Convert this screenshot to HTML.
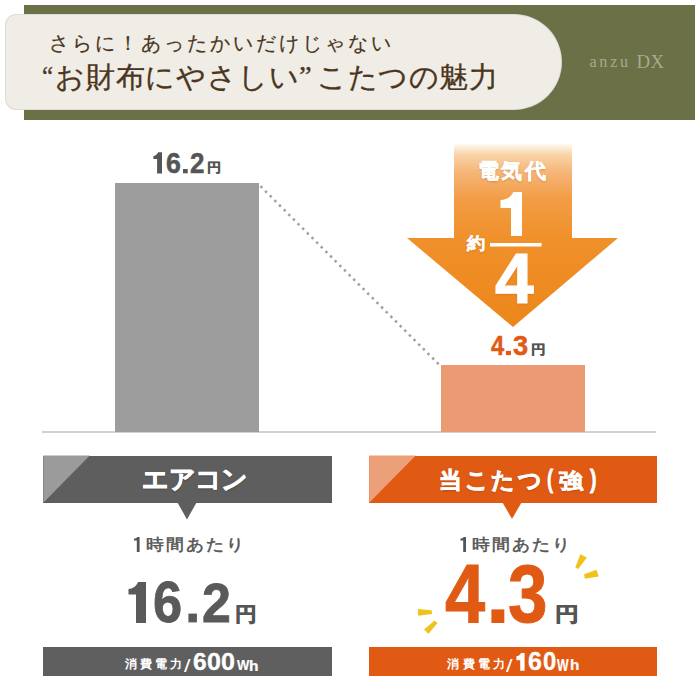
<!DOCTYPE html>
<html lang="ja">
<head>
<meta charset="utf-8">
<style>
html,body{margin:0;padding:0;background:#fff;}
body{width:700px;height:700px;position:relative;overflow:hidden;font-family:"Liberation Sans",sans-serif;}
.abs{position:absolute;white-space:nowrap;}
</style>
</head>
<body>
<!-- header -->
<div class="abs" style="left:24px;top:5px;width:671px;height:115px;background:#6b7047;"></div>
<div class="abs" style="left:6px;top:15px;width:555px;height:93.5px;background:#efede6;border-radius:10px 47px 47px 10px;box-shadow:0 0 0 1px #dedcd5;"></div>

<!-- chart -->
<div class="abs" style="left:42px;top:431px;width:614px;height:1.6px;background:#d2d2d0;"></div>
<div class="abs" style="left:115px;top:183px;width:144px;height:249px;background:#9d9d9d;"></div>
<div class="abs" style="left:441px;top:365px;width:144px;height:67px;background:#eb9a73;"></div>
<svg class="abs" style="left:0;top:0" width="700" height="700">
  <line x1="260.5" y1="186.2" x2="440" y2="365.5" stroke="#a0a0a0" stroke-width="2.5" stroke-dasharray="2.5 4.06"/>
  <defs>
    <linearGradient id="ag" gradientUnits="userSpaceOnUse" x1="0" y1="144" x2="0" y2="327">
      <stop offset="0" stop-color="#fffaf4"/>
      <stop offset="0.06" stop-color="#f9d3a6"/>
      <stop offset="0.16" stop-color="#f5b475"/>
      <stop offset="0.3" stop-color="#f29d45"/>
      <stop offset="0.5" stop-color="#f0912c"/>
      <stop offset="1" stop-color="#ec8619"/>
    </linearGradient>
  </defs>
  <path d="M454 144 L572 144 L572 238 L618 238 L513 327 L407 238 L454 238 Z" fill="url(#ag)"/>
  <rect x="490" y="243" width="51.5" height="3.5" fill="#fff"/>
</svg>

<!-- labels -->
<div class="abs" style="left:43.3px;top:455.6px;width:288.5px;height:47.2px;background:#5e5e5e;"></div>
<div class="abs" style="left:369.2px;top:455.6px;width:287.6px;height:47.2px;background:#e05a14;"></div>
<svg class="abs" style="left:0;top:0" width="700" height="700">
  <path d="M43.3 455.6 L89.8 455.6 L43.3 502.8 Z" fill="#9b9b9b"/>
  <path d="M177.5 502.5 L196.5 502.5 L187 519.5 Z" fill="#5e5e5e"/>
  <path d="M369.2 455.6 L415.7 455.6 L369.2 502.8 Z" fill="#eca07a"/>
  <path d="M502.5 502.5 L521.5 502.5 L512 519 Z" fill="#e05a14"/>
  <g fill="#efc31b">
    <path d="M580.4 554.3 L586.9 557.5 L578.2 569.1 L575.3 567.5 Z"/>
    <path d="M584 574.2 L596.5 569.7 L598.7 576.5 L584.9 578.7 Z"/>
    <path d="M417.9 609 L431.7 610.3 L432 614.1 L418.2 615.7 Z"/>
    <path d="M434.6 620.6 L437.5 623.1 L428.5 633.7 L424 629.6 Z"/>
  </g>
</svg>

<!-- bottom bars -->
<div class="abs" style="left:43px;top:647px;width:289px;height:29px;background:#5f5f5f;"></div>
<div class="abs" style="left:369px;top:647px;width:288px;height:29px;background:#e05a14;"></div>

<!-- texts -->
<div id="h1" style="position:absolute;white-space:nowrap;left:48.80px;top:33.80px;font-family:'Liberation Serif',serif;font-size:19.61px;line-height:1;font-weight:normal;letter-spacing:3.04px;color:#4b3520;-webkit-text-stroke:0.2px #4b3520;">さらに！あったかいだけじゃない</div>
<div id="air" style="position:absolute;white-space:nowrap;left:142.35px;top:466.50px;font-family:'Liberation Sans',sans-serif;font-size:25.62px;line-height:1;font-weight:bold;letter-spacing:-0.72px;color:#fff;-webkit-text-stroke:0.8px #fff;text-shadow:0 1px 2px rgba(0,0,0,0.35);">エアコン</div>
<div id="jkL" style="position:absolute;white-space:nowrap;left:146.15px;top:535.55px;font-family:'Liberation Sans',sans-serif;font-size:16.13px;line-height:1;font-weight:normal;letter-spacing:1.82px;color:#555;-webkit-text-stroke:0.5px #555;transform:scaleX(1.1200);transform-origin:0 0;">時間あたり</div>
<div id="jkR" style="position:absolute;white-space:nowrap;left:471.75px;top:535.55px;font-family:'Liberation Sans',sans-serif;font-size:16.13px;line-height:1;font-weight:normal;letter-spacing:1.83px;color:#555;-webkit-text-stroke:0.5px #555;transform:scaleX(1.1200);transform-origin:0 0;">時間あたり</div>
<div id="denki" style="position:absolute;white-space:nowrap;left:478.10px;top:160.80px;font-family:'Liberation Sans',sans-serif;font-size:20.62px;line-height:1;font-weight:bold;letter-spacing:2.32px;color:#fff;-webkit-text-stroke:0.4px #fff;text-shadow:0 1px 2px rgba(140,60,0,0.35);">電気代</div>
<div id="yaku" style="position:absolute;white-space:nowrap;left:467.00px;top:236.25px;font-family:'Liberation Sans',sans-serif;font-size:16.91px;line-height:1;font-weight:bold;color:#fff;-webkit-text-stroke:0.3px #fff;transform:scaleX(1.0742);transform-origin:0 0;text-shadow:0 1px 2px rgba(140,60,0,0.3);">約</div>
<div id="smL" style="position:absolute;white-space:nowrap;left:125.40px;top:658.25px;font-family:'Liberation Sans',sans-serif;font-size:12.35px;line-height:1;font-weight:bold;letter-spacing:2.98px;color:#fff;">消費電力</div>
<div id="smR" style="position:absolute;white-space:nowrap;left:447.40px;top:658.25px;font-family:'Liberation Sans',sans-serif;font-size:12.35px;line-height:1;font-weight:bold;letter-spacing:3.15px;color:#fff;">消費電力</div>
<div id="kot" style="position:absolute;white-space:nowrap;left:438.85px;top:469.15px;font-family:'Liberation Sans',sans-serif;font-size:23.05px;line-height:1;font-weight:bold;letter-spacing:2.68px;color:#fff;-webkit-text-stroke:0.8px #fff;text-shadow:0 1px 2px rgba(100,30,0,0.35);">当こたつ</div>
<div id="kp1" style="position:absolute;white-space:nowrap;left:547.05px;top:466.00px;font-family:'Liberation Sans',sans-serif;font-size:26.61px;line-height:1;font-weight:bold;color:#fff;-webkit-text-stroke:0.8px #fff;transform:scaleX(0.6829);transform-origin:0 0;text-shadow:0 1px 2px rgba(100,30,0,0.35);">(</div>
<div id="kqiang" style="position:absolute;white-space:nowrap;left:558.90px;top:469.90px;font-family:'Liberation Sans',sans-serif;font-size:21.08px;line-height:1;font-weight:bold;color:#fff;-webkit-text-stroke:0.8px #fff;transform:scaleX(1.1384);transform-origin:0 0;text-shadow:0 1px 2px rgba(100,30,0,0.35);">強</div>
<div id="kp2" style="position:absolute;white-space:nowrap;left:590.00px;top:466.00px;font-family:'Liberation Sans',sans-serif;font-size:26.61px;line-height:1;font-weight:bold;color:#fff;-webkit-text-stroke:0.8px #fff;transform:scaleX(0.7429);transform-origin:0 0;text-shadow:0 1px 2px rgba(100,30,0,0.35);">)</div>
<div id="q1" style="position:absolute;white-space:nowrap;left:41.90px;top:61.60px;font-family:'Liberation Serif',serif;font-size:28.18px;line-height:1;font-weight:normal;color:#4b3520;-webkit-text-stroke:0.3px #4b3520;transform:scaleX(0.8846);transform-origin:0 0;">“</div>
<div id="h2a" style="position:absolute;white-space:nowrap;left:54.65px;top:63.60px;font-family:'Liberation Serif',serif;font-size:28.51px;line-height:1;font-weight:normal;letter-spacing:0.95px;color:#4b3520;-webkit-text-stroke:0.3px #4b3520;">お財布にやさしい</div>
<div id="q2" style="position:absolute;white-space:nowrap;left:299.25px;top:62.85px;font-family:'Liberation Serif',serif;font-size:27.45px;line-height:1;font-weight:normal;color:#4b3520;-webkit-text-stroke:0.3px #4b3520;transform:scaleX(1.0385);transform-origin:0 0;">”</div>
<div id="h2b" style="position:absolute;white-space:nowrap;left:317.10px;top:64.10px;font-family:'Liberation Serif',serif;font-size:28.51px;line-height:1;font-weight:normal;letter-spacing:0.55px;color:#4b3520;-webkit-text-stroke:0.3px #4b3520;">こたつの魅力</div>
<div id="anzu1" style="position:absolute;white-space:nowrap;left:589.50px;top:54.45px;font-family:'Liberation Serif',serif;font-size:16.13px;line-height:1;font-weight:normal;letter-spacing:2.72px;color:#a7aa8e;">anzu</div>
<div id="anzu2" style="position:absolute;white-space:nowrap;left:636.50px;top:53.25px;font-family:'Liberation Serif',serif;font-size:18.80px;line-height:1;font-weight:normal;letter-spacing:0.35px;color:#a7aa8e;">DX</div>

<!-- glyphs -->
<div id="t6" style="position:absolute;white-space:nowrap;left:166.35px;top:148.95px;font-family:'Liberation Sans',sans-serif;font-size:28.64px;line-height:1;font-weight:bold;color:#555;-webkit-text-stroke:0.5px #555;transform:scaleX(0.9338);transform-origin:0 0;">6</div>
<div id="t2" style="position:absolute;white-space:nowrap;left:190.35px;top:148.95px;font-family:'Liberation Sans',sans-serif;font-size:28.69px;line-height:1;font-weight:bold;color:#555;-webkit-text-stroke:0.5px #555;transform:scaleX(0.9055);transform-origin:0 0;">2</div>
<div id="te" style="position:absolute;white-space:nowrap;left:207.30px;top:162.00px;font-family:'Liberation Sans',sans-serif;font-size:12.95px;line-height:1;font-weight:bold;color:#555;-webkit-text-stroke:0.3px #555;transform:scaleX(1.0919);transform-origin:0 0;">円</div>
<div id="s4" style="position:absolute;white-space:nowrap;left:490.75px;top:330.85px;font-family:'Liberation Sans',sans-serif;font-size:28.24px;line-height:1;font-weight:bold;color:#e05a14;-webkit-text-stroke:0.5px #e05a14;transform:scaleX(0.8387);transform-origin:0 0;">4</div>
<div id="s3" style="position:absolute;white-space:nowrap;left:512.80px;top:331.85px;font-family:'Liberation Sans',sans-serif;font-size:27.93px;line-height:1;font-weight:bold;color:#e05a14;-webkit-text-stroke:0.5px #e05a14;transform:scaleX(0.9753);transform-origin:0 0;">3</div>
<div id="se" style="position:absolute;white-space:nowrap;left:531.40px;top:342.50px;font-family:'Liberation Sans',sans-serif;font-size:13.16px;line-height:1;font-weight:bold;color:#555;-webkit-text-stroke:0.3px #555;transform:scaleX(1.1237);transform-origin:0 0;">円</div>
<div id="b6" style="position:absolute;white-space:nowrap;left:152.50px;top:574.25px;font-family:'Liberation Sans',sans-serif;font-size:57.41px;line-height:1;font-weight:bold;color:#5a5a5a;-webkit-text-stroke:0.8px #5a5a5a;transform:scaleX(0.9123);transform-origin:0 0;">6</div>
<div id="b2" style="position:absolute;white-space:nowrap;left:201.70px;top:575.25px;font-family:'Liberation Sans',sans-serif;font-size:56.41px;line-height:1;font-weight:bold;color:#5a5a5a;-webkit-text-stroke:0.8px #5a5a5a;transform:scaleX(0.9208);transform-origin:0 0;">2</div>
<div id="be" style="position:absolute;white-space:nowrap;left:234.80px;top:603.70px;font-family:'Liberation Sans',sans-serif;font-size:20.28px;line-height:1;font-weight:bold;color:#555;-webkit-text-stroke:0.6px #555;transform:scaleX(1.0899);transform-origin:0 0;">円</div>
<div id="o4" style="position:absolute;white-space:nowrap;left:445.25px;top:554.40px;font-family:'Liberation Sans',sans-serif;font-size:82.95px;line-height:1;font-weight:bold;color:#e05a14;-webkit-text-stroke:1.0px #e05a14;transform:scaleX(0.8715);transform-origin:0 0;">4</div>
<div id="o3" style="position:absolute;white-space:nowrap;left:508.15px;top:552.65px;font-family:'Liberation Sans',sans-serif;font-size:82.28px;line-height:1;font-weight:bold;color:#e05a14;-webkit-text-stroke:1.0px #e05a14;transform:scaleX(0.8623);transform-origin:0 0;">3</div>
<div id="oe" style="position:absolute;white-space:nowrap;left:555.40px;top:603.70px;font-family:'Liberation Sans',sans-serif;font-size:20.28px;line-height:1;font-weight:bold;color:#555;-webkit-text-stroke:0.6px #555;transform:scaleX(1.1943);transform-origin:0 0;">円</div>
<div id="f4" style="position:absolute;white-space:nowrap;left:494.70px;top:244.00px;font-family:'Liberation Sans',sans-serif;font-size:70.65px;line-height:1;font-weight:bold;color:#fff;-webkit-text-stroke:1.2px #fff;transform:scaleX(0.9848);transform-origin:0 0;text-shadow:0 1px 2px rgba(140,60,0,0.3);">4</div>
<div id="w6" style="position:absolute;white-space:nowrap;left:192.75px;top:650.10px;font-family:'Liberation Sans',sans-serif;font-size:24.50px;line-height:1;font-weight:bold;color:#fff;-webkit-text-stroke:0.3px #fff;transform:scaleX(1.0042);transform-origin:0 0;">6</div>
<div id="w0a" style="position:absolute;white-space:nowrap;left:206.75px;top:650.10px;font-family:'Liberation Sans',sans-serif;font-size:24.50px;line-height:1;font-weight:bold;color:#fff;-webkit-text-stroke:0.3px #fff;transform:scaleX(1.0252);transform-origin:0 0;">0</div>
<div id="w0b" style="position:absolute;white-space:nowrap;left:220.85px;top:650.10px;font-family:'Liberation Sans',sans-serif;font-size:24.50px;line-height:1;font-weight:bold;color:#fff;-webkit-text-stroke:0.3px #fff;transform:scaleX(1.0252);transform-origin:0 0;">0</div>
<div id="wW" style="position:absolute;white-space:nowrap;left:236.80px;top:657.35px;font-family:'Liberation Sans',sans-serif;font-size:15.12px;line-height:1;font-weight:bold;color:#fff;-webkit-text-stroke:0.2px #fff;transform:scaleX(0.8633);transform-origin:0 0;">W</div>
<div id="wh" style="position:absolute;white-space:nowrap;left:249.30px;top:658.85px;font-family:'Liberation Sans',sans-serif;font-size:14.30px;line-height:1;font-weight:bold;color:#fff;-webkit-text-stroke:0.2px #fff;transform:scaleX(1.0864);transform-origin:0 0;">h</div>
<div id="wsl" style="position:absolute;white-space:nowrap;left:183.80px;top:657.85px;font-family:'Liberation Sans',sans-serif;font-size:17.54px;line-height:1;font-weight:normal;color:#fff;transform:scaleX(1.3346);transform-origin:0 0;">/</div>
<div id="r6" style="position:absolute;white-space:nowrap;left:528.00px;top:649.40px;font-family:'Liberation Sans',sans-serif;font-size:24.93px;line-height:1;font-weight:bold;color:#fff;-webkit-text-stroke:0.3px #fff;transform:scaleX(1.0042);transform-origin:0 0;">6</div>
<div id="r0" style="position:absolute;white-space:nowrap;left:543.15px;top:649.40px;font-family:'Liberation Sans',sans-serif;font-size:24.93px;line-height:1;font-weight:bold;color:#fff;-webkit-text-stroke:0.3px #fff;transform:scaleX(0.9553);transform-origin:0 0;">0</div>
<div id="rW" style="position:absolute;white-space:nowrap;left:557.40px;top:657.95px;font-family:'Liberation Sans',sans-serif;font-size:15.99px;line-height:1;font-weight:bold;color:#fff;-webkit-text-stroke:0.2px #fff;transform:scaleX(0.7674);transform-origin:0 0;">W</div>
<div id="rh" style="position:absolute;white-space:nowrap;left:569.90px;top:657.45px;font-family:'Liberation Sans',sans-serif;font-size:15.17px;line-height:1;font-weight:bold;color:#fff;-webkit-text-stroke:0.2px #fff;transform:scaleX(1.0140);transform-origin:0 0;">h</div>
<div id="rsl" style="position:absolute;white-space:nowrap;left:505.80px;top:657.85px;font-family:'Liberation Sans',sans-serif;font-size:17.54px;line-height:1;font-weight:normal;color:#fff;transform:scaleX(1.3346);transform-origin:0 0;">/</div>

<svg class="abs" style="left:0;top:0" width="700" height="700">
  <!-- digit 1 shapes (Helvetica style, no foot) -->
  <path fill="#555" d="M162 152.3 L162 173.4 L157.1 173.4 L157.1 159.1 L153.4 159.1 L153.4 156 C155.44 156 157.34 154.34 158.08 152.3 Z"/>
  <path fill="#5a5a5a" d="M146 582 L146 623 L136 623 L136 594.5 L128.5 594.5 L128.5 589 C132.62 589 136.50 585.85 138.00 582 Z"/>
  <path fill="#fff" d="M522 192 L522 236 L511 236 L511 208 L500.5 208 L500.5 200 C506.27 200 511.55 196.40 513.20 192 Z"/>
  <path fill="#555" d="M139.6 536.9 L139.6 552 L136.8 552 L136.8 540.4 L134 540.4 L134 538.6 C135.4 538.6 136.7 537.9 137.2 536.9 Z"/>
  <path fill="#555" d="M466 536.9 L466 552 L463.2 552 L463.2 540.4 L460.4 540.4 L460.4 538.6 C461.8 538.6 463.1 537.9 463.6 536.9 Z"/>
  <path fill="#fff" d="M524.6 653 L524.6 670.8 L520.2 670.8 L520.2 660.3 L516.4 660.3 L516.4 656.3 C518.4 656.3 520.3 654.9 521 653 Z"/>
  <!-- periods -->
  <rect fill="#555" x="183" y="169" width="4.7" height="4.3"/>
  <rect fill="#e05a14" x="505.9" y="350.9" width="5.1" height="4.2"/>
  <rect fill="#5a5a5a" x="188.4" y="613.6" width="8.5" height="8.8"/>
  <rect fill="#e05a14" x="491.4" y="609.4" width="12.9" height="13.6"/>
</svg>
</body>
</html>
